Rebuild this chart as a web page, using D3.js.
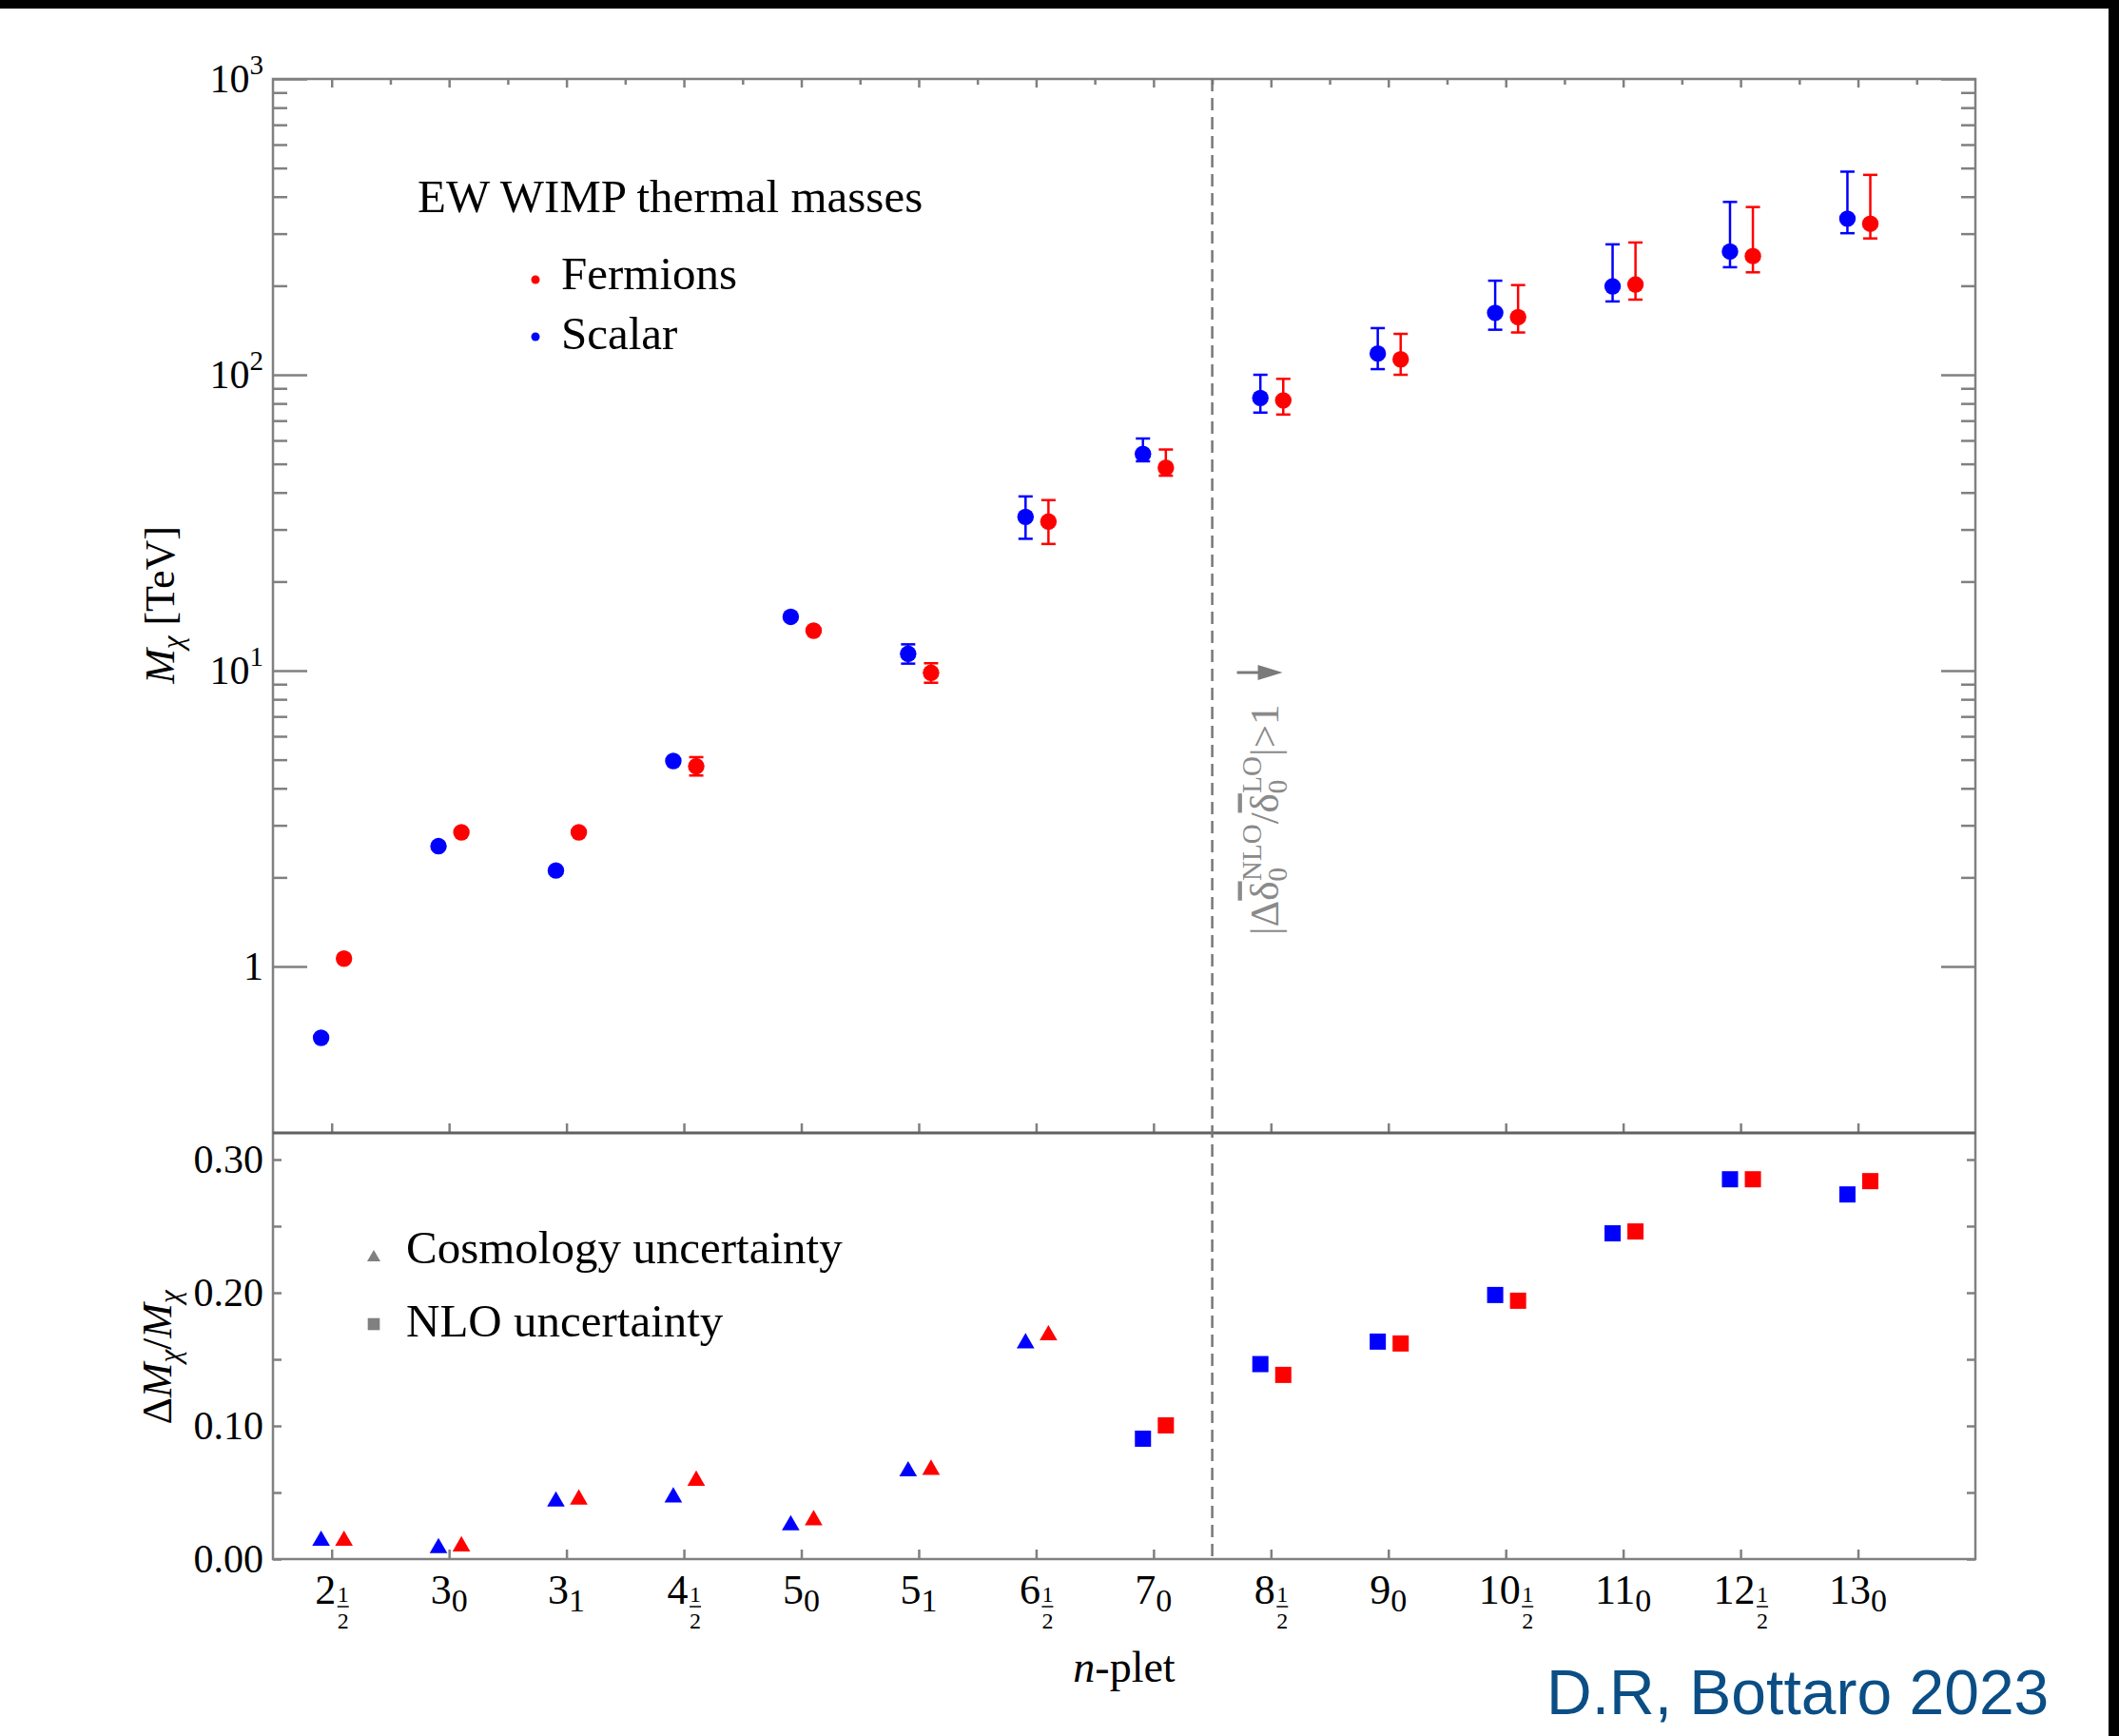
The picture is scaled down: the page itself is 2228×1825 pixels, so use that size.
<!DOCTYPE html>
<html>
<head>
<meta charset="utf-8">
<script src="https://cdn.jsdelivr.net/npm/d3@7"></script>
<style>
  body { margin: 0; background: #000; }
  svg { display: block; }
  text { font-family: "Liberation Serif", "Times New Roman", serif; fill: #000; }
</style>
</head>
<body>
<svg width="2228" height="1825"></svg>
<script>
// n-plet labels: main number + subscript (hypercharge)
var nMain = ["2", "3", "3", "4", "5", "5", "6", "7", "8", "9", "10", "11", "12", "13"];
var nSub  = ["1/2", "0", "1", "1/2", "0", "1", "1/2", "0", "1/2", "0", "1/2", "0", "1/2", "0"];

// thermal masses in TeV
var scalarMass  = [0.574, 2.55, 2.11, 4.95, 15.2, 11.4, 33.1, 54.0, 83.5, 118, 162, 199, 261, 337];
var scalarLo    = [null, null, null, null, null, 10.56, 27.9, 51, 74.5, 104.5, 142, 177, 231, 301];
var scalarHi    = [null, null, null, null, null, 12.27, 38.8, 60.9, 100, 143.8, 208, 276, 384, 486];
var fermionMass = [1.063, 2.84, 2.84, 4.75, 13.65, 9.83, 31.9, 48.5, 81.9, 112.8, 156.7, 202, 252, 324];
var fermionLo   = [null, null, null, 4.42, null, 9.1, 26.8, 45.6, 73.4, 100, 139, 179.5, 222, 289];
var fermionHi   = [null, null, null, 5.1, null, 10.59, 37.7, 55.9, 96.9, 137.5, 201, 280, 369, 474];

// relative uncertainty dM/M
var scalarDelta  = [0.0157, 0.0102, 0.0452, 0.0483, 0.0273, 0.0679, 0.164, 0.0904, 0.1464, 0.1633, 0.1983, 0.2446, 0.2852, 0.2738];
var fermionDelta = [0.0157, 0.0115, 0.0467, 0.0608, 0.0312, 0.069, 0.170, 0.1004, 0.1383, 0.1619, 0.194, 0.246, 0.2852, 0.2838];
var deltaKind    = ["cosmo", "cosmo", "cosmo", "cosmo", "cosmo", "cosmo", "cosmo", "nlo", "nlo", "nlo", "nlo", "nlo", "nlo", "nlo"];

var massTicks  = [1, 10, 100, 1000];
var deltaTicks = [0, 0.05, 0.1, 0.15, 0.2, 0.25, 0.3];
var deltaLabels = [0, 0.1, 0.2, 0.3];

var BLUE = "#0000ff", RED = "#ff0000", GRAY = "#808080";

var svg = d3.select("svg");
svg.append("rect").attr("x", 0).attr("y", 9).attr("width", 2217).attr("height", 1816).attr("fill", "#fff");

var pLeft = 287, pRight = 2077, pTop = 83, pMid = 1191, pBottom = 1639;

var x = d3.scaleLinear().domain([-0.5, 14]).range([pLeft, pRight]);
var y = d3.scaleLog().domain([Math.pow(10, -0.5627), 1000]).range([pMid, pTop]);
var y2 = d3.scaleLinear().domain([0, 0.32]).range([pBottom, pMid]);

var idx = d3.range(nMain.length);
var halves = idx.map(function(i) { return i + 0.5; });
var minorMass = [];
[1, 10, 100].forEach(function(k) { for (var m = 2; m <= 9; m++) minorMass.push(m * k); });

function tickStyle(g) {
  g.select(".domain").remove();
  g.selectAll(".tick line").attr("stroke", GRAY).attr("stroke-width", 2.5);
  g.selectAll(".tick text").remove();
}
function addAxis(axis, tx, ty) {
  svg.append("g").attr("transform", "translate(" + tx + "," + ty + ")").call(axis).call(tickStyle);
}

// top panel ticks
addAxis(d3.axisLeft(y).tickValues(massTicks).tickSize(-36), pLeft, 0);
addAxis(d3.axisLeft(y).tickValues(minorMass).tickSize(-15), pLeft, 0);
addAxis(d3.axisRight(y).tickValues(massTicks).tickSize(-36), pRight, 0);
addAxis(d3.axisRight(y).tickValues(minorMass).tickSize(-15), pRight, 0);
addAxis(d3.axisTop(x).tickValues(idx).tickSize(-9), 0, pTop);
addAxis(d3.axisTop(x).tickValues(halves).tickSize(-6), 0, pTop);
addAxis(d3.axisBottom(x).tickValues(idx).tickSize(-10), 0, pMid);
// bottom panel ticks
addAxis(d3.axisLeft(y2).tickValues(deltaTicks).tickSize(-9), pLeft, 0);
addAxis(d3.axisRight(y2).tickValues(deltaTicks).tickSize(-9), pRight, 0);
addAxis(d3.axisBottom(x).tickValues(idx).tickSize(-10), 0, pBottom);

// frames
svg.append("rect").attr("x", pLeft).attr("y", pTop).attr("width", pRight - pLeft).attr("height", pBottom - pTop)
  .attr("fill", "none").attr("stroke", GRAY).attr("stroke-width", 2.5);
svg.append("line").attr("x1", pLeft).attr("x2", pRight).attr("y1", pMid).attr("y2", pMid)
  .attr("stroke", "#606060").attr("stroke-width", 3);

// dashed separator
svg.append("line").attr("x1", x(7.5)).attr("x2", x(7.5)).attr("y1", pTop).attr("y2", pBottom)
  .attr("stroke", "#777").attr("stroke-width", 2.5).attr("stroke-dasharray", "13,7");

// y tick labels, top panel
var ml = svg.append("g");
massTicks.forEach(function(v) {
  var t = ml.append("text").attr("x", pLeft - 10).attr("y", y(v) + 14)
    .attr("text-anchor", "end").attr("font-size", 42);
  if (v === 1) { t.text("1"); return; }
  t.append("tspan").text("10");
  t.append("tspan").attr("font-size", 29).attr("dy", -19).text(Math.round(Math.log10(v)));
});
// y tick labels, bottom panel
deltaLabels.forEach(function(v) {
  svg.append("text").attr("x", pLeft - 10).attr("y", y2(v) + 14)
    .attr("text-anchor", "end").attr("font-size", 42).text(d3.format(".2f")(v));
});

// x tick labels
var xl = svg.append("g");
idx.forEach(function(i) {
  var g = xl.append("g");
  var t = g.append("text").attr("y", 1686).attr("font-size", 44).text(nMain[i]);
  var w = t.node().getComputedTextLength();
  var sw;
  if (nSub[i] === "1/2") {
    sw = 13;
    var x0 = x(i) - (w + sw) / 2;
    t.attr("x", x0);
    var cx = x0 + w + sw / 2 + 1;
    g.append("text").attr("x", cx).attr("y", 1684).attr("font-size", 24).attr("text-anchor", "middle").text("1");
    g.append("line").attr("x1", cx - 6).attr("x2", cx + 6).attr("y1", 1689).attr("y2", 1689)
      .attr("stroke", "#000").attr("stroke-width", 1.5);
    g.append("text").attr("x", cx).attr("y", 1712).attr("font-size", 24).attr("text-anchor", "middle").text("2");
  } else {
    var s = g.append("text").attr("y", 1694).attr("font-size", 34).text(nSub[i]);
    sw = s.node().getComputedTextLength();
    var x1 = x(i) - (w + sw) / 2;
    t.attr("x", x1);
    s.attr("x", x1 + w);
  }
});

// axis titles
var yt = svg.append("text").attr("transform", "translate(183,636) rotate(-90)")
  .attr("text-anchor", "middle").attr("font-size", 44);
yt.append("tspan").attr("font-style", "italic").text("M");
yt.append("tspan").attr("font-style", "italic").attr("font-size", 31).attr("dy", 9).text("χ");
yt.append("tspan").attr("dy", -9).text(" [TeV]");

var yt2 = svg.append("text").attr("transform", "translate(180,1427) rotate(-90)")
  .attr("text-anchor", "middle").attr("font-size", 44);
yt2.append("tspan").text("Δ");
yt2.append("tspan").attr("font-style", "italic").text("M");
yt2.append("tspan").attr("font-style", "italic").attr("font-size", 31).attr("dy", 9).text("χ");
yt2.append("tspan").attr("dy", -9).text("/");
yt2.append("tspan").attr("font-style", "italic").text("M");
yt2.append("tspan").attr("font-style", "italic").attr("font-size", 31).attr("dy", 9).text("χ");

var xt = svg.append("text").attr("x", 1182).attr("y", 1768).attr("text-anchor", "middle").attr("font-size", 46);
xt.append("tspan").attr("font-style", "italic").text("n");
xt.append("tspan").text("-plet");

// rotated annotation next to the separator
var an = svg.append("text").attr("transform", "translate(" + (x(7.5) + 69) + ",983) rotate(-90)")
  .attr("font-size", 43).style("fill", "#8a8a8a");
an.append("tspan").text("|Δ");
an.append("tspan").style("text-decoration", "overline").text("δ");
an.append("tspan").attr("font-size", 29).attr("dy", 9).text("0");
an.append("tspan").attr("font-size", 29).attr("dx", -14).attr("dy", -27).text("NLO");
an.append("tspan").attr("dy", 18).text("/");
an.append("tspan").style("text-decoration", "overline").text("δ");
an.append("tspan").attr("font-size", 29).attr("dy", 9).text("0");
an.append("tspan").attr("font-size", 29).attr("dx", -14).attr("dy", -27).text("LO");
an.append("tspan").attr("dy", 18).text("|>1");

var ax0 = x(7.5) + 26, ay = 707;
svg.append("line").attr("x1", ax0).attr("x2", ax0 + 30).attr("y1", ay).attr("y2", ay)
  .attr("stroke", "#7a7a7a").attr("stroke-width", 3);
svg.append("path").attr("d", "M" + (ax0 + 22) + "," + (ay - 8) + "L" + (ax0 + 48) + "," + ay + "L" + (ax0 + 22) + "," + (ay + 8) + "Z")
  .attr("fill", "#7a7a7a");

// top panel points with error bars
var OFF_B = -0.09, OFF_R = 0.105;
function drawMass(mass, lo, hi, off, color) {
  var g = svg.append("g");
  idx.forEach(function(i) {
    var px = x(i + off);
    if (lo[i] !== null) {
      g.append("line").attr("x1", px).attr("x2", px).attr("y1", y(lo[i])).attr("y2", y(hi[i]))
        .attr("stroke", color).attr("stroke-width", 2.5);
      [lo[i], hi[i]].forEach(function(v) {
        g.append("line").attr("x1", px - 7.5).attr("x2", px + 7.5).attr("y1", y(v)).attr("y2", y(v))
          .attr("stroke", color).attr("stroke-width", 2.5);
      });
    }
  });
  g.selectAll("circle").data(mass).enter().append("circle")
    .attr("cx", function(d, i) { return x(i + off); })
    .attr("cy", function(d) { return y(d); })
    .attr("r", 8.7).attr("fill", color);
}
drawMass(scalarMass, scalarLo, scalarHi, OFF_B, BLUE);
drawMass(fermionMass, fermionLo, fermionHi, OFF_R, RED);

// bottom panel markers
var tri = d3.symbol().type(d3.symbolTriangle).size(150)();
var sq = d3.symbol().type(d3.symbolSquare).size(289)();
function drawDelta(vals, off, color) {
  svg.append("g").selectAll("path").data(vals).enter().append("path")
    .attr("d", function(d, i) { return deltaKind[i] === "cosmo" ? tri : sq; })
    .attr("transform", function(d, i) {
      var dy = deltaKind[i] === "cosmo" ? 2.7 : 0;
      return "translate(" + x(i + off) + "," + (y2(d) + dy) + ")";
    })
    .attr("fill", color);
}
drawDelta(scalarDelta, OFF_B, BLUE);
drawDelta(fermionDelta, OFF_R, RED);

// legends
svg.append("text").attr("x", 439).attr("y", 223).attr("font-size", 49).text("EW WIMP thermal masses");
svg.append("circle").attr("cx", 563).attr("cy", 294).attr("r", 4.5).attr("fill", RED);
svg.append("text").attr("x", 590).attr("y", 304).attr("font-size", 49).text("Fermions");
svg.append("circle").attr("cx", 563).attr("cy", 354).attr("r", 4.5).attr("fill", BLUE);
svg.append("text").attr("x", 590).attr("y", 367).attr("font-size", 49).text("Scalar");

svg.append("path").attr("d", d3.symbol().type(d3.symbolTriangle).size(85)())
  .attr("transform", "translate(393,1322)").attr("fill", GRAY);
svg.append("text").attr("x", 427).attr("y", 1328).attr("font-size", 49).text("Cosmology uncertainty");
svg.append("path").attr("d", d3.symbol().type(d3.symbolSquare).size(160)())
  .attr("transform", "translate(393,1392)").attr("fill", GRAY);
svg.append("text").attr("x", 427).attr("y", 1405).attr("font-size", 49).text("NLO uncertainty");

// credit
svg.append("text").attr("x", 1626).attr("y", 1802).attr("font-size", 66)
  .style("font-family", "'Liberation Sans', Arial, sans-serif").style("fill", "#0b4e86")
  .text("D.R, Bottaro 2023");
</script>
</body>
</html>
